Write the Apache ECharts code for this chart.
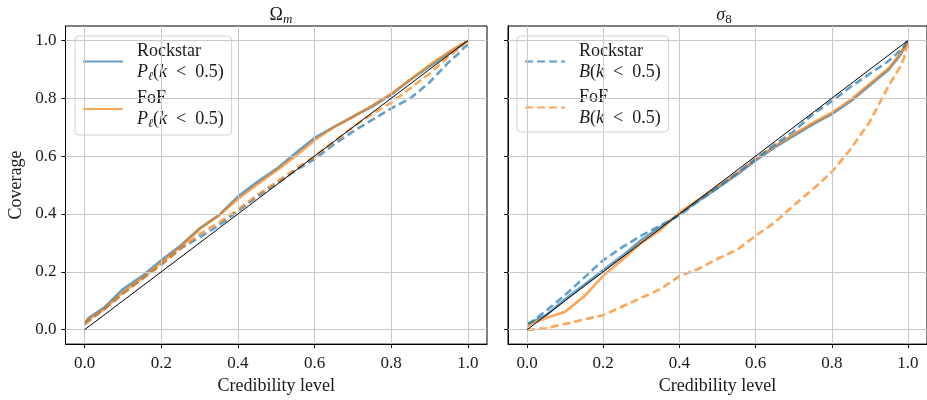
<!DOCTYPE html>
<html>
<head>
<meta charset="utf-8">
<script src="https://cdn.jsdelivr.net/npm/echarts@6/dist/echarts.min.js"></script>
<style>html,body{margin:0;padding:0;background:#fff}#c{width:927px;height:400px}</style>
</head>
<body>
<div id="c"></div>
<script>
// ---- data ----
const levels = [0, 0.01, 0.05, 0.1, 0.15, 0.2, 0.25, 0.3, 0.35, 0.4, 0.45, 0.5, 0.55, 0.6, 0.65, 0.7, 0.75, 0.8, 0.85, 0.9, 0.95, 0.98, 0.99, 1.0];

// Omega_m panel
const omRockstarP = [0.02, 0.04, 0.075, 0.14, 0.185, 0.24, 0.29, 0.35, 0.395, 0.46, 0.51, 0.555, 0.61, 0.663, 0.70, 0.737, 0.771, 0.813, 0.864, 0.91, 0.956, 0.98, 0.99, 1.0];
const omFofP      = [0.02, 0.035, 0.07, 0.13, 0.178, 0.232, 0.285, 0.348, 0.395, 0.452, 0.502, 0.55, 0.60, 0.655, 0.70, 0.735, 0.775, 0.815, 0.865, 0.915, 0.96, 0.985, 0.99, 1.0];
const omRockstarB = [0.02, 0.03, 0.07, 0.125, 0.175, 0.225, 0.28, 0.32, 0.36, 0.41, 0.46, 0.505, 0.55, 0.59, 0.64, 0.685, 0.725, 0.765, 0.80, 0.855, 0.925, 0.96, 0.975, 0.985];
const omFofB      = [0.02, 0.03, 0.07, 0.125, 0.175, 0.225, 0.28, 0.33, 0.37, 0.415, 0.465, 0.51, 0.555, 0.60, 0.65, 0.70, 0.745, 0.785, 0.835, 0.885, 0.945, 0.975, 0.99, 1.0];

// sigma_8 panel
const s8RockstarP = [0.02, 0.025, 0.05, 0.105, 0.155, 0.205, 0.255, 0.31, 0.355, 0.40, 0.445, 0.49, 0.535, 0.585, 0.63, 0.67, 0.71, 0.745, 0.79, 0.845, 0.90, 0.95, 0.975, 1.0];
const s8FofP      = [0.01, 0.02, 0.04, 0.062, 0.115, 0.186, 0.242, 0.30, 0.345, 0.405, 0.45, 0.495, 0.54, 0.59, 0.635, 0.675, 0.715, 0.75, 0.795, 0.85, 0.905, 0.955, 0.975, 1.0];
const s8RockstarB = [0.02, 0.025, 0.065, 0.12, 0.18, 0.24, 0.285, 0.325, 0.36, 0.395, 0.445, 0.49, 0.54, 0.59, 0.64, 0.685, 0.745, 0.79, 0.84, 0.885, 0.93, 0.965, 0.98, 1.0];
const s8FofB      = [0.0, 0.0, 0.005, 0.02, 0.035, 0.05, 0.08, 0.11, 0.14, 0.185, 0.21, 0.245, 0.275, 0.325, 0.37, 0.43, 0.485, 0.545, 0.625, 0.72, 0.845, 0.91, 0.94, 1.0];

const diagonal = [0, 1];
const tickValues = [0, 0.2, 0.4, 0.6, 0.8, 1.0];
const panelTitles = ['{a|Ω}{s|m}', '{i|σ}{b|8}'];
const axisLabelX = 'Credibility level';
const axisLabelY = 'Coverage';
const SP = '\u2002';
const legendText = {
  'Rockstar P': '{t|Rockstar}\n{i|P}{s|ℓ}{t|(}{i|k}{t|' + SP + '<' + SP + '0.5)}',
  'FoF P': '{t|FoF}\n{i|P}{s|ℓ}{t|(}{i|k}{t|' + SP + '<' + SP + '0.5)}',
  'Rockstar B': '{t|Rockstar}\n{i|B}{t|(}{i|k}{t|' + SP + '<' + SP + '0.5)}',
  'FoF B': '{t|FoF}\n{i|B}{t|(}{i|k}{t|' + SP + '<' + SP + '0.5)}'
};

// ---- styling ----
const FONT = 'Liberation Serif';
const BLUE = '#1f77b4', ORANGE = '#ff7f0e';
const TXT = '#1a1a1a';
const pair = arr => levels.map((x, i) => [x, arr[i]]);

const grids = [
  {left: 65.5, top: 26, width: 421.5, height: 319},
  {left: 508, top: 26, width: 421.5, height: 319}
];

function xAxisFor(i) {
  return {
    type: 'value', gridIndex: i, min: -0.05, max: 1.05,
    axisLine: {show: true, onZero: false, lineStyle: {color: '#000', width: 1}},
    axisTick: {show: true, customValues: tickValues, length: 4, lineStyle: {color: '#000'}},
    axisLabel: {customValues: tickValues, formatter: v => v.toFixed(1), fontFamily: FONT, fontSize: 17, color: TXT, margin: 11},
    splitLine: {show: false},
    name: axisLabelX, nameLocation: 'middle', nameGap: 31,
    nameTextStyle: {fontFamily: FONT, fontSize: 18, color: TXT}
  };
}
function yAxisFor(i) {
  return {
    type: 'value', gridIndex: i, min: -0.05, max: 1.05,
    axisLine: {show: true, onZero: false, lineStyle: {color: '#000', width: 1}},
    axisTick: {show: true, customValues: tickValues, length: 4, lineStyle: {color: '#000'}},
    axisLabel: {show: i === 0, customValues: tickValues, formatter: v => v.toFixed(1), fontFamily: FONT, fontSize: 17, color: TXT, margin: 9},
    splitLine: {show: false},
    name: i === 0 ? axisLabelY : '', nameLocation: 'middle', nameGap: 40, nameRotate: 90,
    nameTextStyle: {fontFamily: FONT, fontSize: 18, color: TXT}
  };
}

function gridLines(i) {
  return {
    type: 'line', xAxisIndex: i, yAxisIndex: i, data: [], z: 1, silent: true,
    markLine: {
      silent: true, symbol: ['none', 'none'], label: {show: false}, animation: false,
      lineStyle: {color: '#c8c8c8', width: 1, type: 'solid'},
      emphasis: {disabled: true},
      data: tickValues.map(v => ({xAxis: v})).concat(tickValues.map(v => ({yAxis: v})))
    }
  };
}

function curve(i, name, arr, color, dashed) {
  return {
    type: 'line', name, xAxisIndex: i, yAxisIndex: i, data: pair(arr), z: 2,
    symbol: 'none', smooth: false, animation: false,
    lineStyle: {color, width: 2.6, opacity: 0.7, type: dashed ? [8, 4] : 'solid'},
    itemStyle: {color, opacity: 0.7}
  };
}
function diag(i) {
  return {
    type: 'line', xAxisIndex: i, yAxisIndex: i, data: diagonal.map(v => [v, v]), z: 5,
    symbol: 'none', animation: false, silent: true,
    lineStyle: {color: '#000', width: 1}
  };
}

const richLegend = {
  t: {fontFamily: FONT, fontSize: 18, color: TXT, lineHeight: 21, verticalAlign: 'middle'},
  i: {fontFamily: FONT, fontSize: 18, color: TXT, fontStyle: 'italic', lineHeight: 21, verticalAlign: 'middle'},
  s: {fontFamily: FONT, fontSize: 12, color: TXT, fontStyle: 'italic', lineHeight: 12, verticalAlign: 'bottom'}
};
function legendFor(x, names) {
  return {
    orient: 'vertical', left: x, top: 36, data: names,
    itemWidth: 40, itemHeight: 14, itemGap: 7,
    padding: [6, 8, 5, 7],
    backgroundColor: 'rgba(255,255,255,0.8)', borderColor: '#d0d0d0', borderWidth: 1, borderRadius: 4,
    selectedMode: false,
    itemStyle: {opacity: 0},
    formatter: n => legendText[n],
    textStyle: {fontFamily: FONT, fontSize: 18, color: TXT, padding: [0, 0, 0, 9], rich: richLegend}
  };
}

const titleRich = {
  a: {fontFamily: FONT, fontSize: 18, fontWeight: 'normal', color: TXT, lineHeight: 22, verticalAlign: 'middle'},
  s: {fontFamily: FONT, fontSize: 13, fontWeight: 'normal', color: TXT, fontStyle: 'italic', lineHeight: 12, verticalAlign: 'bottom'},
  i: {fontFamily: FONT, fontSize: 18, fontWeight: 'normal', color: TXT, fontStyle: 'italic', lineHeight: 22, verticalAlign: 'middle'},
  b: {fontFamily: FONT, fontSize: 13, fontWeight: 'normal', color: TXT, lineHeight: 12, verticalAlign: 'bottom'}
};

const option = {
  backgroundColor: '#fff',
  animation: false,
  title: [
    {text: panelTitles[0], left: 276, top: -1, textAlign: 'center', textStyle: {fontWeight: 'normal', rich: titleRich}},
    {text: panelTitles[1], left: 719, top: -1, textAlign: 'center', textStyle: {fontWeight: 'normal', rich: titleRich}}
  ],
  grid: grids.map(g => Object.assign({show: true, borderColor: '#000', borderWidth: 1, backgroundColor: 'transparent'}, g)),
  xAxis: [xAxisFor(0), xAxisFor(1)],
  yAxis: [yAxisFor(0), yAxisFor(1)],
  legend: [legendFor(75, ['Rockstar P', 'FoF P']), legendFor(517, ['Rockstar B', 'FoF B'])],
  series: [
    gridLines(0), gridLines(1),
    curve(0, 'Rockstar P', omRockstarP, BLUE, false),
    curve(0, 'FoF P', omFofP, ORANGE, false),
    curve(0, 'Rockstar B', omRockstarB, BLUE, true),
    curve(0, 'FoF B', omFofB, ORANGE, true),
    curve(1, 'Rockstar P', s8RockstarP, BLUE, false),
    curve(1, 'FoF P', s8FofP, ORANGE, false),
    curve(1, 'Rockstar B', s8RockstarB, BLUE, true),
    curve(1, 'FoF B', s8FofB, ORANGE, true),
    diag(0), diag(1)
  ]
};
const chart = echarts.init(document.getElementById('c'), null, {renderer: 'canvas'});
chart.setOption(option);
</script>
</body>
</html>
